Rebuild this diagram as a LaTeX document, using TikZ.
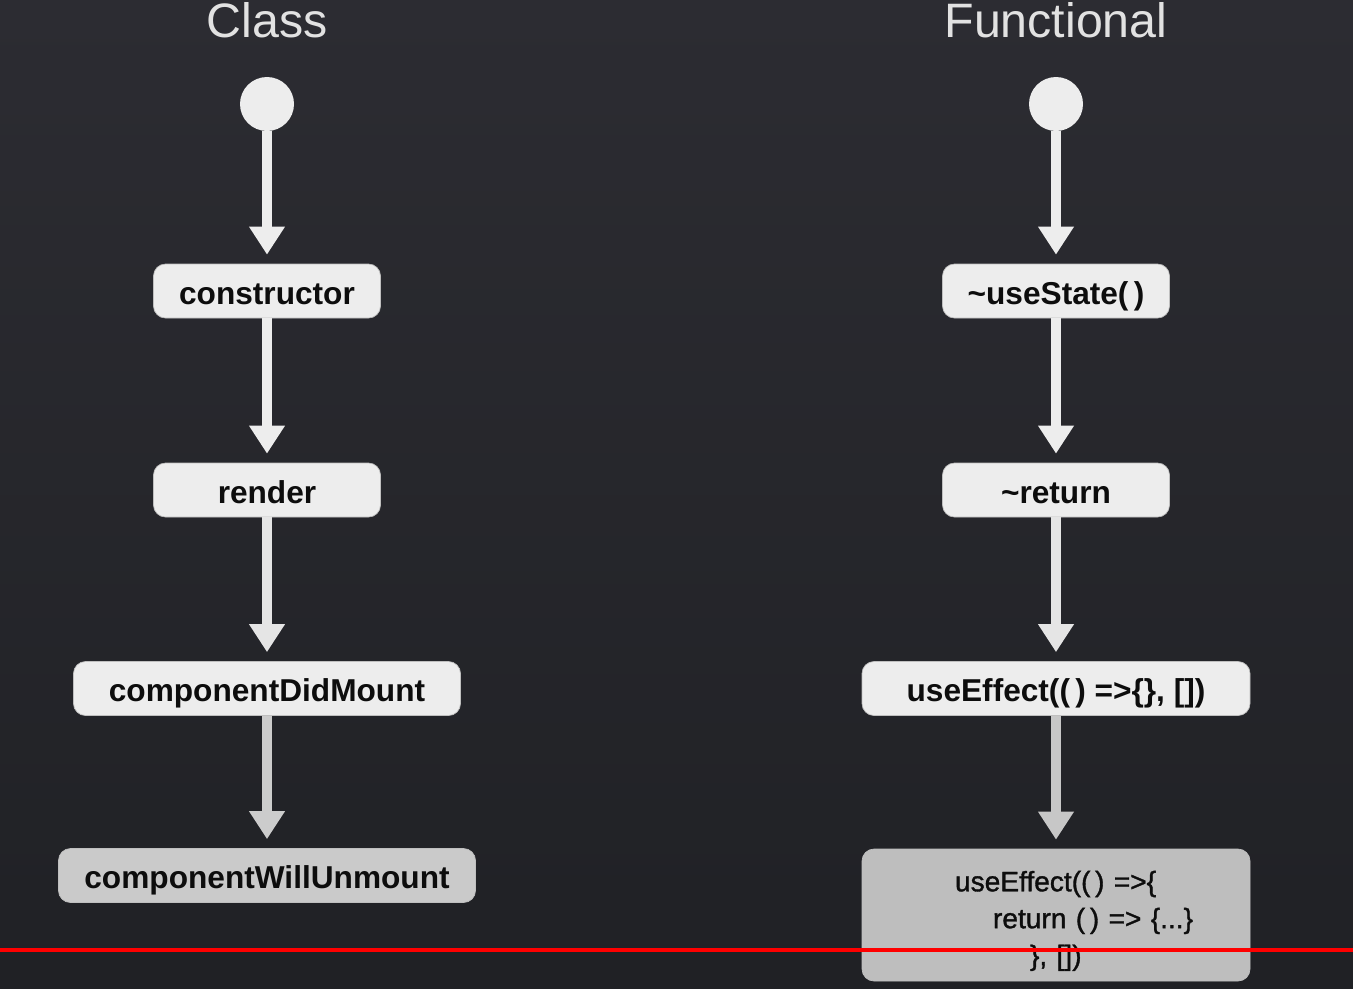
\documentclass[tikz,border=0pt]{standalone}
\usepackage{fontspec}
\setmainfont{Liberation Sans}
\newfontfamily\codefont[RawFeature={embolden=1.2}]{Liberation Sans}
\usetikzlibrary{arrows.meta,positioning}
\definecolor{bgtop}{HTML}{2C2C32}
\definecolor{bgbot}{HTML}{202125}
\definecolor{boxlight}{HTML}{EDEDED}
\definecolor{boxmid}{HTML}{CACACA}
\definecolor{boxdark}{HTML}{BEBEBE}
\definecolor{titlegray}{HTML}{E2E2E2}
\definecolor{barred}{HTML}{FF0000}

\begin{document}
\begin{tikzpicture}[
  stage/.style={draw=black!25, line width=0.4pt, fill=boxlight, rounded corners=0.24cm,
    minimum height=1.08cm, inner sep=0pt, text=black!95,
    font=\fontsize{18}{22}\selectfont\bfseries, text height=15pt, text depth=0pt},
  flow/.style={line width=0.2cm, -{Triangle[width=0.68cm,length=0.56cm]}, shorten >=0.18cm},
  title/.style={text=titlegray, font=\fontsize{27.5}{30}\selectfont, anchor=base},
  dot/.style={circle, fill=boxlight, minimum size=1.08cm, inner sep=0pt}
]
\useasboundingbox (0,0) rectangle (27.06,-19.76);
\shade[top color=bgtop, bottom color=bgbot] (0,0) rectangle (27.06,-19.76);

% Titles
\node[title] (classtitle) at (5.34,-0.74) {Class};
\node[title] (functitle) at (21.12,-0.74) {Functional};

% Class lifecycle
\node[dot] (cstart) at (5.34,-2.08) {};
\node[stage, minimum width=4.54cm] (ctor) at (5.34,-5.82) {constructor};
\node[stage, minimum width=4.54cm] (render) at (5.34,-9.80) {render};
\node[stage, minimum width=7.74cm] (didmount) at (5.34,-13.77) {componentDidMount};
\node[stage, minimum width=8.34cm, fill=boxmid] (willunmount) at (5.34,-17.51) {componentWillUnmount};

% Functional lifecycle
\node[dot] (fstart) at (21.12,-2.08) {};
\node[stage, minimum width=4.54cm] (usestate) at (21.12,-5.82) {\textasciitilde useState(\,)};
\node[stage, minimum width=4.54cm] (freturn) at (21.12,-9.80) {\textasciitilde return};
\node[stage, minimum width=7.76cm] (effect) at (21.12,-13.77) {useEffect((\,) =>\{\}, [])};
\node[stage, minimum width=7.76cm, minimum height=2.64cm, fill=boxdark, align=left,
  text width=7.76cm, font=\fontsize{16}{21}\selectfont\codefont, text height=12pt, text depth=39pt]
  (cleanup) at (21.12,-18.30)
  {\hspace*{1.86cm}useEffect((\,) =>\{\\
   \hspace*{2.62cm}return (\,) => \{...\}\\
   \hspace*{3.36cm}\}, [])};

% Transitions
\draw[flow, draw=boxlight] (cstart) -- (ctor);
\draw[flow, draw=boxlight] (ctor) -- (render);
\draw[flow, draw=black!10] (render) -- (didmount);
\draw[flow, draw=black!20] (didmount) -- (willunmount);
\draw[flow, draw=boxlight] (fstart) -- (usestate);
\draw[flow, draw=boxlight] (usestate) -- (freturn);
\draw[flow, draw=black!10] (freturn) -- (effect);
\draw[flow, draw=black!22] (effect) -- (cleanup);

% Progress bar
\draw[barred, line width=0.08cm] (0,-19.0) -- (27.06,-19.0);
\end{tikzpicture}
\end{document}
